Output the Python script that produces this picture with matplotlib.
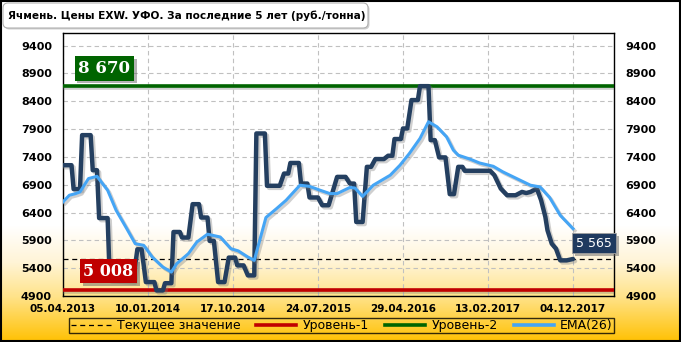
import matplotlib.pyplot as plt
import matplotlib.patheffects as pe
from matplotlib.patches import FancyBboxPatch, Rectangle
from matplotlib.lines import Line2D
import numpy as np

# Данные (недели от 05.04.2013, руб./тонна)
title = 'Ячмень. Цены EXW. УФО. За последние 5 лет (руб./тонна)'
tick_weeks = [0, 40, 80, 120, 160, 200, 240]
tick_labels = ['05.04.2013', '10.01.2014', '17.10.2014', '24.07.2015',
               '29.04.2016', '13.02.2017', '04.12.2017']

price_week = [0, 4, 5, 8, 9, 13, 14, 16, 17, 21, 22, 33, 35, 37, 39, 43, 44, 47,
              48, 51, 52, 55, 56, 59, 61, 64, 65, 68, 69, 71, 73, 76, 78, 81,
              82, 85, 87, 90, 91, 95, 96, 102, 104, 106, 107, 111, 112, 115,
              116, 120, 122, 125, 129, 133, 135, 137, 138, 141, 143, 145, 147,
              151, 153, 155, 156, 159, 160, 162, 164, 167, 168, 172, 173, 175,
              177, 180, 182, 184, 186, 188, 189, 201, 203, 206, 209, 213, 216,
              218, 220, 223, 225, 227, 228, 230, 232, 234, 237, 240]
price_value = [7250, 7250, 6820, 6820, 7790, 7790, 7160, 7160, 6300, 6300, 5200,
               5180, 5740, 5740, 5150, 5150, 5000, 5000, 5130, 5130, 6050, 6050,
               5950, 5950, 6550, 6550, 6310, 6310, 5890, 5890, 5150, 5150, 5590,
               5590, 5450, 5450, 5270, 5270, 7820, 7820, 6880, 6880, 7100, 7100,
               7290, 7290, 6920, 6920, 6670, 6670, 6530, 6530, 7040, 7040, 6920,
               6920, 6230, 6230, 7220, 7220, 7360, 7360, 7420, 7420, 7720, 7720,
               7910, 7910, 8420, 8420, 8670, 8670, 7700, 7700, 7390, 7390, 6730,
               6730, 7220, 7220, 7150, 7150, 7070, 6830, 6710, 6710, 6770, 6750,
               6770, 6830, 6620, 6320, 6080, 5840, 5750, 5540, 5540, 5565]

ema_week = [0, 3, 6, 8, 12, 16, 21, 25, 30, 34, 38, 42, 47, 51, 53.5, 59, 63,
            68, 74, 79, 82.5, 87, 90, 93, 95.5, 100.5, 105, 111.5, 116, 121,
            125.6, 129, 135, 137.4, 141, 146, 154, 158.6, 163, 168, 172, 176,
            180.5, 183.7, 186, 191.5, 196, 202.5, 207, 213.5, 220, 224.5, 229,
            234, 240]
ema_value = [6590, 6710, 6740, 6770, 7010, 7050, 6800, 6440, 6110, 5840, 5810,
             5600, 5420, 5330, 5480, 5660, 5870, 6010, 5960, 5750, 5710, 5600,
             5540, 5960, 6310, 6470, 6620, 6890, 6870, 6800, 6740, 6740, 6850,
             6840, 6690, 6890, 7070, 7250, 7460, 7730, 8030, 7940, 7760, 7520,
             7430, 7360, 7290, 7230, 7130, 7010, 6890, 6860, 6670, 6350, 6110]

current = 5565
level1 = 5008
level2 = 8670


def fmt(v):
    return f'{v:,}'.replace(',', ' ')


fig = plt.figure(figsize=(6.81, 3.42), dpi=100)
fig.patch.set_facecolor('white')

# фон с градиентом снизу
bg = fig.add_axes([0, 0, 1, 1], zorder=-10)
rows = np.arange(342)
stops_px = [0, 225, 262, 296, 342]
stops_rgb = np.array([[255, 255, 255], [255, 255, 255], [255, 244, 214],
                      [255, 227, 138], [255, 192, 0]]) / 255
grad = np.stack([np.interp(rows, stops_px, stops_rgb[:, c]) for c in range(3)], axis=-1)
bg.imshow(grad[:, None, :], aspect='auto', extent=[0, 1, 0, 1])
bg.axis('off')

fig.add_artist(Rectangle((0.002, 0.003), 0.996, 0.994, transform=fig.transFigure,
                         fill=False, ec='black', lw=1.5))

# заголовок в рамке
px = 1 / 100
fig.patches.append(FancyBboxPatch((4.5 * px, (342 - 29.5) * px), 365 * px, 25 * px,
                                  boxstyle='round,pad=0,rounding_size=0.05',
                                  transform=fig.dpi_scale_trans, fc='#A0A0A0',
                                  ec='none', alpha=0.5, zorder=1))
fig.patches.append(FancyBboxPatch((3 * px, (342 - 28) * px), 365 * px, 25 * px,
                                  boxstyle='round,pad=0,rounding_size=0.05',
                                  transform=fig.dpi_scale_trans, fc='white',
                                  ec='#B0B0B0', lw=0.8, zorder=2))
fig.text(8 / 681, 1 - 15.5 / 342, title, fontsize=7.6, fontweight='bold',
         family='DejaVu Sans', va='center', ha='left', zorder=3)

ax = fig.add_axes([63 / 681, 46 / 342, 551 / 681, 263 / 342])
ax.set_facecolor('none')

shadow = [pe.SimpleLineShadow(offset=(1.5, -1.5), shadow_color='#777777', alpha=0.35),
          pe.Normal()]

ax.axhline(level1, color='#C00000', lw=2.6, path_effects=shadow, zorder=3)
ax.axhline(level2, color='#006400', lw=2.6, path_effects=shadow, zorder=3)
ax.axhline(current, color='black', lw=0.9, ls=(0, (4, 3)), zorder=3)

ax.plot(price_week, price_value, color='#243F60', lw=3.2, solid_joinstyle='round',
        solid_capstyle='round', path_effects=shadow, zorder=4)
ax.plot(ema_week, ema_value, color='#45A5F5', lw=2.2, solid_joinstyle='round',
        path_effects=shadow, zorder=5)

box_fx = [pe.SimplePatchShadow(offset=(2, -2), shadow_rgbFace='#666666', alpha=0.5),
          pe.Normal()]
t = ax.text(7.2, 8990, fmt(level2), color='white', fontsize=12, fontweight='bold',
            family='DejaVu Serif', va='center', ha='left', zorder=6,
            bbox=dict(boxstyle='square,pad=0.22', fc='#006400', ec='none'))
t.get_bbox_patch().set_path_effects(box_fx)
t = ax.text(9.6, 5345, fmt(level1), color='white', fontsize=11.5, fontweight='bold',
            family='DejaVu Serif', va='center', ha='left', zorder=6,
            bbox=dict(boxstyle='square,pad=0.22', fc='#C00000', ec='none'))
t.get_bbox_patch().set_path_effects(box_fx)
t = ax.text(241.5, 5850, fmt(current), color='white', fontsize=9,
            family='DejaVu Sans', va='center', ha='left', zorder=6, clip_on=False,
            bbox=dict(boxstyle='square,pad=0.3', fc='#1F3A5F', ec='#A0A0A0', lw=0.6))
t.get_bbox_patch().set_path_effects(box_fx)

ax.set_xlim(0, 259.3)
ax.set_ylim(4900, 9625)
ax.set_yticks(range(4900, 9401, 500))
ax.set_xticks(tick_weeks)
ax.set_xticklabels(tick_labels)
ax.tick_params(axis='y', length=0, labelleft=True, labelright=True, pad=8)
ax.tick_params(axis='x', length=0, pad=6)
for lab in ax.get_xticklabels():
    lab.set_fontweight('bold')
    lab.set_fontsize(7.5)
for t2 in ax.yaxis.get_major_ticks():
    for lab in (t2.label1, t2.label2):
        lab.set_fontweight('bold')
        lab.set_fontsize(8)

ax.grid(True, color='#C0C0C0', ls=(0, (4, 3)), lw=0.8)
ax.set_axisbelow(True)
for s in ax.spines.values():
    s.set_color('black')
    s.set_linewidth(1)

handles = [Line2D([], [], color='black', lw=0.9, ls=(0, (4, 3))),
           Line2D([], [], color='#C00000', lw=2.6),
           Line2D([], [], color='#006400', lw=2.6),
           Line2D([], [], color='#45A5F5', lw=2.6)]
labels = ['Текущее значение', 'Уровень-1', 'Уровень-2', 'EMA(26)']
leg = fig.legend(handles, labels, loc='center', ncol=4,
                 bbox_to_anchor=(63 / 681, 7 / 342, 557 / 681, 19 / 342),
                 mode='expand', frameon=True, fancybox=False, edgecolor='black',
                 facecolor='none', handlelength=3.2, fontsize=9, borderpad=0.1,
                 handletextpad=0.5)
leg.get_frame().set_linewidth(1)

plt.savefig('out.png', dpi=100)
